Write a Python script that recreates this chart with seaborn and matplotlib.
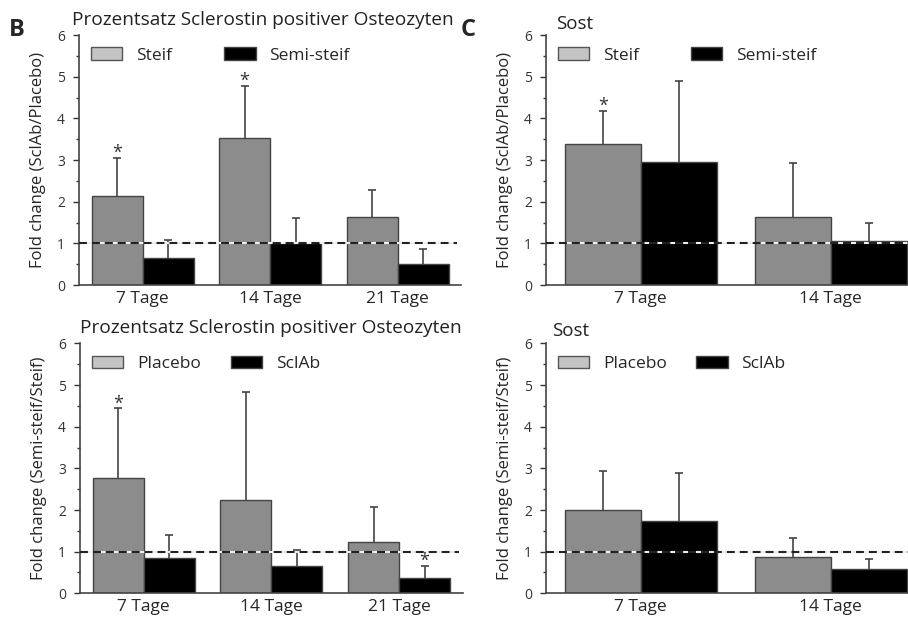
import pandas as pd
import numpy as np
import matplotlib
matplotlib.use("Agg")
import matplotlib.pyplot as plt
import seaborn as sns

# Panel B oben: Prozentsatz Sclerostin positiver Osteozyten (SclAb/Placebo)
b_top_tage = ["7 Tage", "14 Tage", "21 Tage"]
b_top_steif = [2.14, 3.52, 1.63]
b_top_steif_err = [3.06, 4.78, 2.28]
b_top_semi = [0.66, 1.02, 0.50]
b_top_semi_err = [1.08, 1.62, 0.86]
b_top_sig_steif = [True, True, False]
b_top_sig_semi = [False, False, False]

# Panel C oben: Sost (SclAb/Placebo)
c_top_tage = ["7 Tage", "14 Tage"]
c_top_steif = [3.38, 1.63]
c_top_steif_err = [4.18, 2.92]
c_top_semi = [2.96, 1.06]
c_top_semi_err = [4.90, 1.50]
c_top_sig_steif = [True, False]
c_top_sig_semi = [False, False]

# Panel B unten: Semi-steif/Steif
b_bot_tage = ["7 Tage", "14 Tage", "21 Tage"]
b_bot_placebo = [2.78, 2.24, 1.22]
b_bot_placebo_err = [4.44, 4.84, 2.08]
b_bot_sclab = [0.85, 0.66, 0.37]
b_bot_sclab_err = [1.40, 1.04, 0.66]
b_bot_sig_placebo = [True, False, False]
b_bot_sig_sclab = [False, False, True]

# Panel C unten: Sost Semi-steif/Steif
c_bot_tage = ["7 Tage", "14 Tage"]
c_bot_placebo = [2.00, 0.88]
c_bot_placebo_err = [2.94, 1.33]
c_bot_sclab = [1.74, 0.58]
c_bot_sclab_err = [2.88, 0.82]
c_bot_sig_placebo = [False, False]
c_bot_sig_sclab = [False, False]

GRAU = "#8c8c8c"
SCHWARZ = "#000000"

sns.set_style("ticks")
plt.rcParams["font.family"] = ["Open Sans", "DejaVu Sans"]

fig = plt.figure(figsize=(9.08, 6.17), dpi=100)


def panel(pos, tage, g1, v1, e1, s1, g2, v2, e2, s2, ylabel, colspace):
    ax = fig.add_axes(pos)
    df = pd.DataFrame({
        "Zeit": tage * 2,
        "Gruppe": [g1] * len(tage) + [g2] * len(tage),
        "Wert": v1 + v2,
    })
    sns.barplot(data=df, x="Zeit", y="Wert", hue="Gruppe", order=tage,
                hue_order=[g1, g2], palette=[GRAU, SCHWARZ], saturation=1,
                edgecolor="#444444", linewidth=1, errorbar=None, width=0.8,
                ax=ax, zorder=2)
    for cont, err, sig in zip(ax.containers, [e1, e2], [s1, s2]):
        for bar, top, star in zip(cont, err, sig):
            xc = bar.get_x() + bar.get_width() / 2
            h = bar.get_height()
            _, caps, _ = ax.errorbar(xc, h, yerr=[[0], [top - h]], fmt="none",
                                     ecolor="#444444", elinewidth=1.2,
                                     capsize=2.6, capthick=1.2, zorder=1)
            caps[0].set_visible(False)
            if star:
                ax.text(xc, top + 0.12, "*", ha="center", va="center",
                        fontsize=13, color="#333333", zorder=5)
    ax.axhline(1, xmin=0.0, xmax=0.99, color="#222222", lw=1.5,
               dashes=(3.8, 2.4), gapcolor="#eeeeee", zorder=3)
    ax.set_xlim(-0.5, len(tage) - 0.5)
    ax.set_ylim(0, 6)
    ax.set_yticks(range(7))
    ax.set_yticks(np.arange(0.5, 6, 1), minor=True)
    ax.tick_params(axis="y", labelsize=10, colors="#333333", length=4,
                   width=1, pad=6)
    ax.tick_params(axis="y", which="minor", length=2, width=1,
                   colors="#333333")
    ax.tick_params(axis="x", length=0, labelsize=12.5, pad=4)
    ax.set_xlabel("")
    ax.set_ylabel(ylabel, fontsize=12, labelpad=8)
    sns.despine(ax=ax)
    for sp in ["left", "bottom"]:
        ax.spines[sp].set_color("#444444")
        ax.spines[sp].set_linewidth(1.2)
    leg = ax.legend(loc="upper left", bbox_to_anchor=(0.0, 1.0), ncol=2,
                    frameon=False, fontsize=12.5, handlelength=1.8,
                    handleheight=0.75, handletextpad=0.8,
                    columnspacing=colspace, borderaxespad=0.3)
    leg.legend_handles[0].set_facecolor("#c4c4c4")
    leg.legend_handles[0].set_edgecolor("#555555")
    return ax


panel([0.087, 0.538, 0.421, 0.405], b_top_tage,
      "Steif", b_top_steif, b_top_steif_err, b_top_sig_steif,
      "Semi-steif", b_top_semi, b_top_semi_err, b_top_sig_semi,
      "Fold change (SclAb/Placebo)", 3.0)
panel([0.601, 0.538, 0.4185, 0.405], c_top_tage,
      "Steif", c_top_steif, c_top_steif_err, c_top_sig_steif,
      "Semi-steif", c_top_semi, c_top_semi_err, c_top_sig_semi,
      "Fold change (SclAb/Placebo)", 3.0)
panel([0.088, 0.0384, 0.4218, 0.405], b_bot_tage,
      "Placebo", b_bot_placebo, b_bot_placebo_err, b_bot_sig_placebo,
      "SclAb", b_bot_sclab, b_bot_sclab_err, b_bot_sig_sclab,
      "Fold change (Semi-steif/Steif)", 1.7)
panel([0.601, 0.0384, 0.4185, 0.405], c_bot_tage,
      "Placebo", c_bot_placebo, c_bot_placebo_err, c_bot_sig_placebo,
      "SclAb", c_bot_sclab, c_bot_sclab_err, c_bot_sig_sclab,
      "Fold change (Semi-steif/Steif)", 1.7)

fig.text(0.010, 0.951, "B", fontsize=17, fontweight="bold", va="center")
fig.text(0.507, 0.951, "C", fontsize=17, fontweight="bold", va="center")
fig.text(0.079, 0.968, "Prozentsatz Sclerostin positiver Osteozyten",
         fontsize=13.7, va="center", color="#222222")
fig.text(0.088, 0.468, "Prozentsatz Sclerostin positiver Osteozyten",
         fontsize=13.7, va="center", color="#222222")
fig.text(0.612, 0.961, "Sost", fontsize=13.5, va="center", color="#222222")
fig.text(0.608, 0.463, "Sost", fontsize=13.5, va="center", color="#222222")

plt.savefig("out.png", dpi=100)
